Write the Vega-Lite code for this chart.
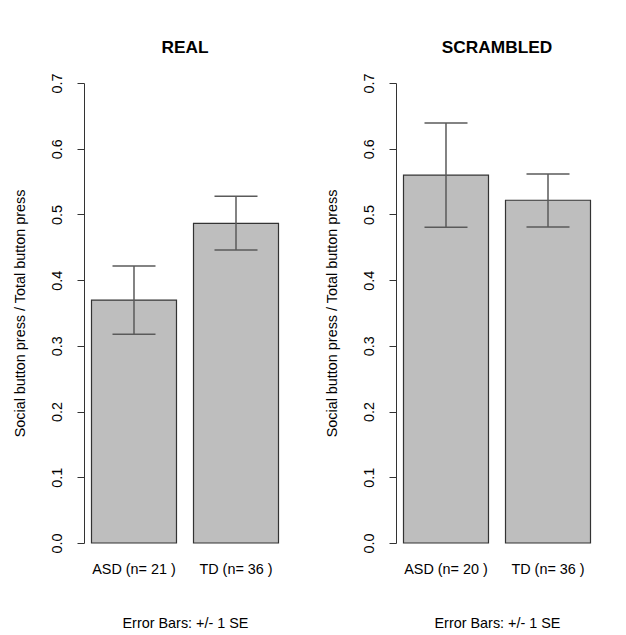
{
  "$schema": "https://vega.github.io/schema/vega-lite/v6.json",
  "background": "white",
  "padding": {"left": 12, "top": 38, "right": 5, "bottom": 0},
  "bounds": "flush",
  "spacing": 110,
  "config": {
    "font": "Liberation Sans",
    "view": {"stroke": null},
    "title": {"font": "Liberation Sans", "fontSize": 17.3, "fontWeight": "bold", "color": "black", "offset": 17, "anchor": "middle"},
    "axis": {"labelFont": "Liberation Sans", "titleFont": "Liberation Sans", "labelFontSize": 14.4, "titleFontSize": 14.4, "titleFontWeight": "normal", "labelColor": "black", "titleColor": "black", "grid": false},
    "axisY": {"labelAngle": 270, "labelAlign": "center", "labelBaseline": "bottom", "tickSize": 7, "labelPadding": 13, "titlePadding": 22, "domainColor": "#333333", "tickColor": "#333333", "domainWidth": 1, "tickWidth": 1},
    "axisX": {"domain": false, "ticks": false, "labelAngle": 0, "labelPadding": 19, "titlePadding": 41}
  },
  "datasets": {
    "real": [
      {"group": "ASD (n= 21 )", "mean": 0.3695, "lo": 0.3177, "hi": 0.4214},
      {"group": "TD (n= 36 )", "mean": 0.4865, "lo": 0.4458, "hi": 0.5277}
    ],
    "scr": [
      {"group": "ASD (n= 20 )", "mean": 0.5597, "lo": 0.4804, "hi": 0.639},
      {"group": "TD (n= 36 )", "mean": 0.5216, "lo": 0.481, "hi": 0.5617}
    ]
  },
  "hconcat": [
    {
      "title": "REAL",
      "width": 202,
      "height": 460,
      "data": {"name": "real"},
      "encoding": {
        "x": {"field": "group", "type": "nominal", "sort": null, "scale": {"paddingInner": 0.1667, "paddingOuter": 0.0735}, "axis": {"title": "Error Bars: +/- 1 SE"}}
      },
      "layer": [
        {"mark": {"type": "bar", "fill": "#bebebe", "stroke": "#333333", "strokeWidth": 1.2},
         "encoding": {"y": {"field": "mean", "type": "quantitative", "scale": {"domain": [0, 0.7]}, "axis": {"title": "Social button press / Total button press", "values": [0, 0.1, 0.2, 0.3, 0.4, 0.5, 0.6, 0.7], "format": ".1f"}}}},
        {"mark": {"type": "rule", "color": "#5a5a5a", "strokeWidth": 1.5},
         "encoding": {"y": {"field": "lo", "type": "quantitative", "axis": {"title": "Social button press / Total button press"}}, "y2": {"field": "hi"}}},
        {"mark": {"type": "tick", "color": "#5a5a5a", "thickness": 1.5, "size": 43, "opacity": 1, "orient": "horizontal"},
         "encoding": {"y": {"field": "lo", "type": "quantitative", "axis": {"title": "Social button press / Total button press"}}}},
        {"mark": {"type": "tick", "color": "#5a5a5a", "thickness": 1.5, "size": 43, "opacity": 1, "orient": "horizontal"},
         "encoding": {"y": {"field": "hi", "type": "quantitative", "axis": {"title": "Social button press / Total button press"}}}}
      ]
    },
    {
      "title": "SCRAMBLED",
      "width": 202,
      "height": 460,
      "data": {"name": "scr"},
      "encoding": {
        "x": {"field": "group", "type": "nominal", "sort": null, "scale": {"paddingInner": 0.1667, "paddingOuter": 0.0735}, "axis": {"title": "Error Bars: +/- 1 SE"}}
      },
      "layer": [
        {"mark": {"type": "bar", "fill": "#bebebe", "stroke": "#333333", "strokeWidth": 1.2},
         "encoding": {"y": {"field": "mean", "type": "quantitative", "scale": {"domain": [0, 0.7]}, "axis": {"title": "Social button press / Total button press", "values": [0, 0.1, 0.2, 0.3, 0.4, 0.5, 0.6, 0.7], "format": ".1f"}}}},
        {"mark": {"type": "rule", "color": "#5a5a5a", "strokeWidth": 1.5},
         "encoding": {"y": {"field": "lo", "type": "quantitative", "axis": {"title": "Social button press / Total button press"}}, "y2": {"field": "hi"}}},
        {"mark": {"type": "tick", "color": "#5a5a5a", "thickness": 1.5, "size": 43, "opacity": 1, "orient": "horizontal"},
         "encoding": {"y": {"field": "lo", "type": "quantitative", "axis": {"title": "Social button press / Total button press"}}}},
        {"mark": {"type": "tick", "color": "#5a5a5a", "thickness": 1.5, "size": 43, "opacity": 1, "orient": "horizontal"},
         "encoding": {"y": {"field": "hi", "type": "quantitative", "axis": {"title": "Social button press / Total button press"}}}}
      ]
    }
  ]
}
